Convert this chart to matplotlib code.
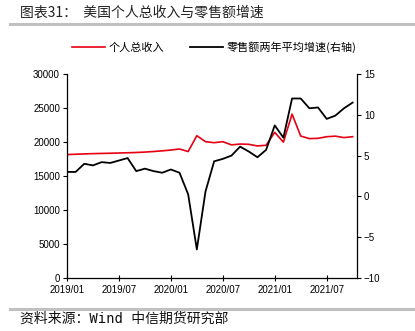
import numpy as np
import pandas as pd
import matplotlib
matplotlib.use('Agg')
import matplotlib.pyplot as plt
from matplotlib.lines import Line2D

plt.rcParams['font.family'] = ['Liberation Sans', 'Noto Sans CJK SC', 'DejaVu Sans']
plt.rcParams['axes.unicode_minus'] = True

# monthly series, 2019/01 - 2021/10
months = pd.date_range('2019-01-01', periods=34, freq='MS')

# personal income (left axis)
income = [18150, 18200, 18250, 18290, 18320, 18350, 18380, 18420, 18460, 18520,
          18600, 18700, 18820, 18970, 18600, 20930, 20050, 19900, 20050, 19580,
          19700, 19660, 19420, 19520, 21420, 19980, 24100, 20880, 20500, 20540,
          20780, 20860, 20650, 20780]

# retail sales, two-year average growth (right axis)
retail = [3.0, 3.0, 4.0, 3.8, 4.2, 4.1, 4.4, 4.7, 3.1, 3.4,
          3.1, 2.9, 3.3, 2.9, 0.25, -6.5, 0.6, 4.3, 4.6, 5.0,
          6.1, 5.5, 4.8, 5.7, 8.7, 7.2, 12.0, 12.0, 10.8, 10.9,
          9.5, 9.9, 10.8, 11.5]

income_label = '个人总收入'
retail_label = '零售额两年平均增速(右轴)'
title = '图表31：  美国个人总收入与零售额增速'
source = '资料来源：Wind 中信期货研究部'

left_ticks = [0, 5000, 10000, 15000, 20000, 25000, 30000]
right_ticks = [-10, -5, 0, 5, 10, 15]

RED = '#e60012'
GREY = '#c0c0c0'

x = np.arange(len(months))
tick_pos = x[::6]
tick_lab = [m.strftime('%Y/%m') for m in months[::6]]

fig = plt.figure(figsize=(4.15, 3.31), dpi=100, facecolor='w')
ax1 = fig.add_axes([0.1614, 0.1601, 0.6988, 0.6163])
ax2 = ax1.twinx()

ax1.plot(x, income, '-', color=RED, lw=1.2)
ax2.plot(x, retail, '-', color='k', lw=1.3)

ax1.set_xlim(0, 33.5)
ax1.set_ylim(0, 30000)
ax2.set_ylim(-10, 15)
ax1.set_yticks(left_ticks)
ax2.set_yticks(right_ticks)
ax1.set_xticks(tick_pos)
ax1.set_xticklabels(tick_lab)

ax1.spines['top'].set_visible(False)
ax1.spines['right'].set_visible(False)
for sp in ['top', 'left', 'bottom']:
    ax2.spines[sp].set_visible(False)
for sp in ['left', 'bottom']:
    ax1.spines[sp].set_linewidth(0.9)
ax2.spines['right'].set_linewidth(0.9)

ax1.tick_params(axis='y', direction='out', length=3, width=0.8, labelsize=7, pad=2)
ax1.tick_params(axis='x', direction='inout', length=4, width=0.8, labelsize=7, pad=3)
ax2.tick_params(axis='y', direction='out', length=3, width=0.8, labelsize=7, pad=2)

# legend above the plot
handles = [Line2D([], [], color=RED, lw=1.2), Line2D([], [], color='k', lw=1.3)]
fig.legend(handles, [income_label, retail_label], loc='center',
           bbox_to_anchor=(0.516, 0.858), ncol=2, frameon=False,
           handlelength=3.0, handletextpad=0.3, columnspacing=2.3,
           prop={'family': ['Noto Sans CJK SC'], 'size': 8})

# title, separator rules, source
fig.text(0.048, 0.961, title, fontsize=10, ha='left', va='center',
         family=['Noto Sans CJK SC'], color='#222222')
fig.add_artist(Line2D([0.024, 1.0], [0.926, 0.926], color=GREY, lw=2.2,
                      transform=fig.transFigure))
fig.add_artist(Line2D([0.024, 1.0], [0.067, 0.067], color=GREY, lw=2.2,
                      transform=fig.transFigure))
fig.text(0.048, 0.036, source, fontsize=10, ha='left', va='center',
         family=['DejaVu Sans Mono', 'Noto Sans CJK SC'], color='#111111')

fig.savefig('out.png', dpi=100, facecolor='w')
